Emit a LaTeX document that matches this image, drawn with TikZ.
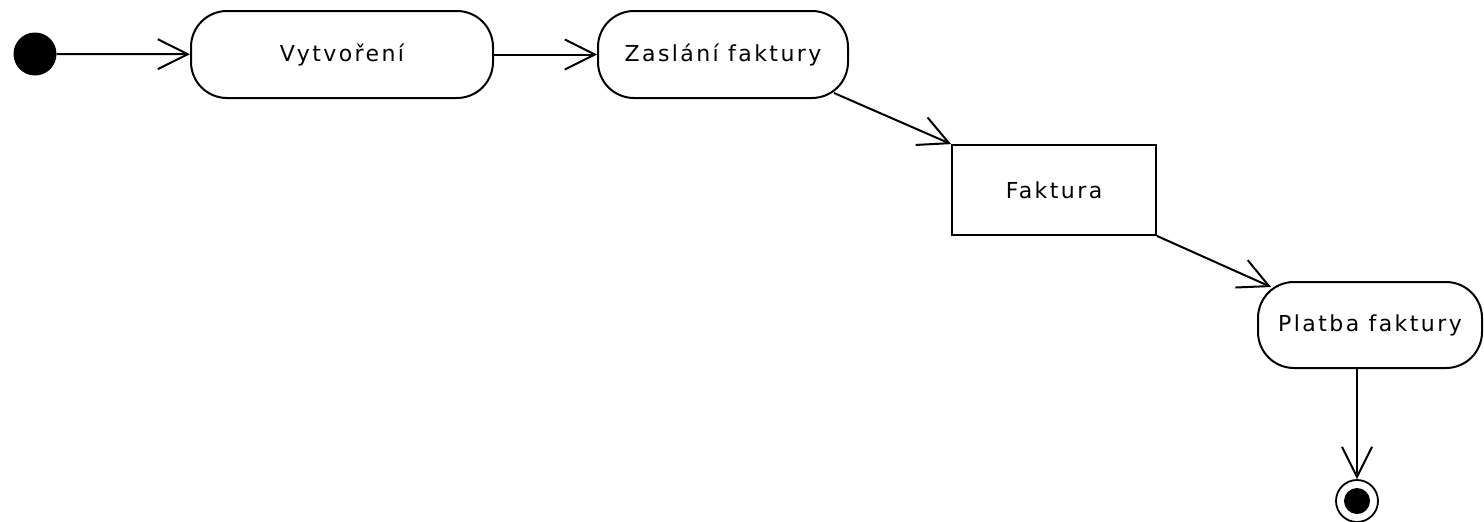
\documentclass[tikz,border=0pt]{standalone}
\usepackage{fontspec}
\setmainfont{DejaVu Sans}[LetterSpace=11]
\usetikzlibrary{arrows.meta}
\tikzset{
  act/.style={draw, line width=2pt, rounded corners=36pt, inner sep=0pt, font=\fontsize{22}{24}\selectfont},
  objbox/.style={draw, line width=1.8pt, inner sep=0pt, font=\fontsize{22}{24}\selectfont},
  flow/.style={line width=2pt, -{Straight Barb[length=30pt, width=30pt, line width=2pt]}},
}
\begin{document}
\begin{tikzpicture}[x=1pt,y=-1pt]
\useasboundingbox (0,0) rectangle (1484,522);
\node[circle, fill=black, minimum size=43pt, inner sep=0pt] (start) at (35,54) {};
\node[act, minimum width=302pt, minimum height=87pt] (vyt) at (342,54.5) {Vytvoření};
\node[act, minimum width=250pt, minimum height=87pt] (zas) at (723,54.5) {Zaslání faktury};
\node[objbox, minimum width=204pt, minimum height=90pt] (fak) at (1054,190) {Faktura};
\node[act, minimum width=224pt, minimum height=86pt] (pla) at (1370,325) {Platba faktury};
\node[circle, draw, line width=1.8pt, minimum size=42pt, inner sep=0pt] (end) at (1357,501) {};
\node[circle, fill=black, minimum size=26pt, inner sep=0pt] (endin) at (end.center) {};
\coordinate (zasout) at (834,93);
\coordinate (plain) at (1271,287);
\draw[flow] (start) -- (vyt);
\draw[flow] (vyt) -- (zas);
\draw[flow] (zasout) -- (fak.north west);
\draw[flow] (fak.south east) -- (plain);
\draw[flow] (pla.south -| end) -- (end.north);
\end{tikzpicture}
\end{document}
